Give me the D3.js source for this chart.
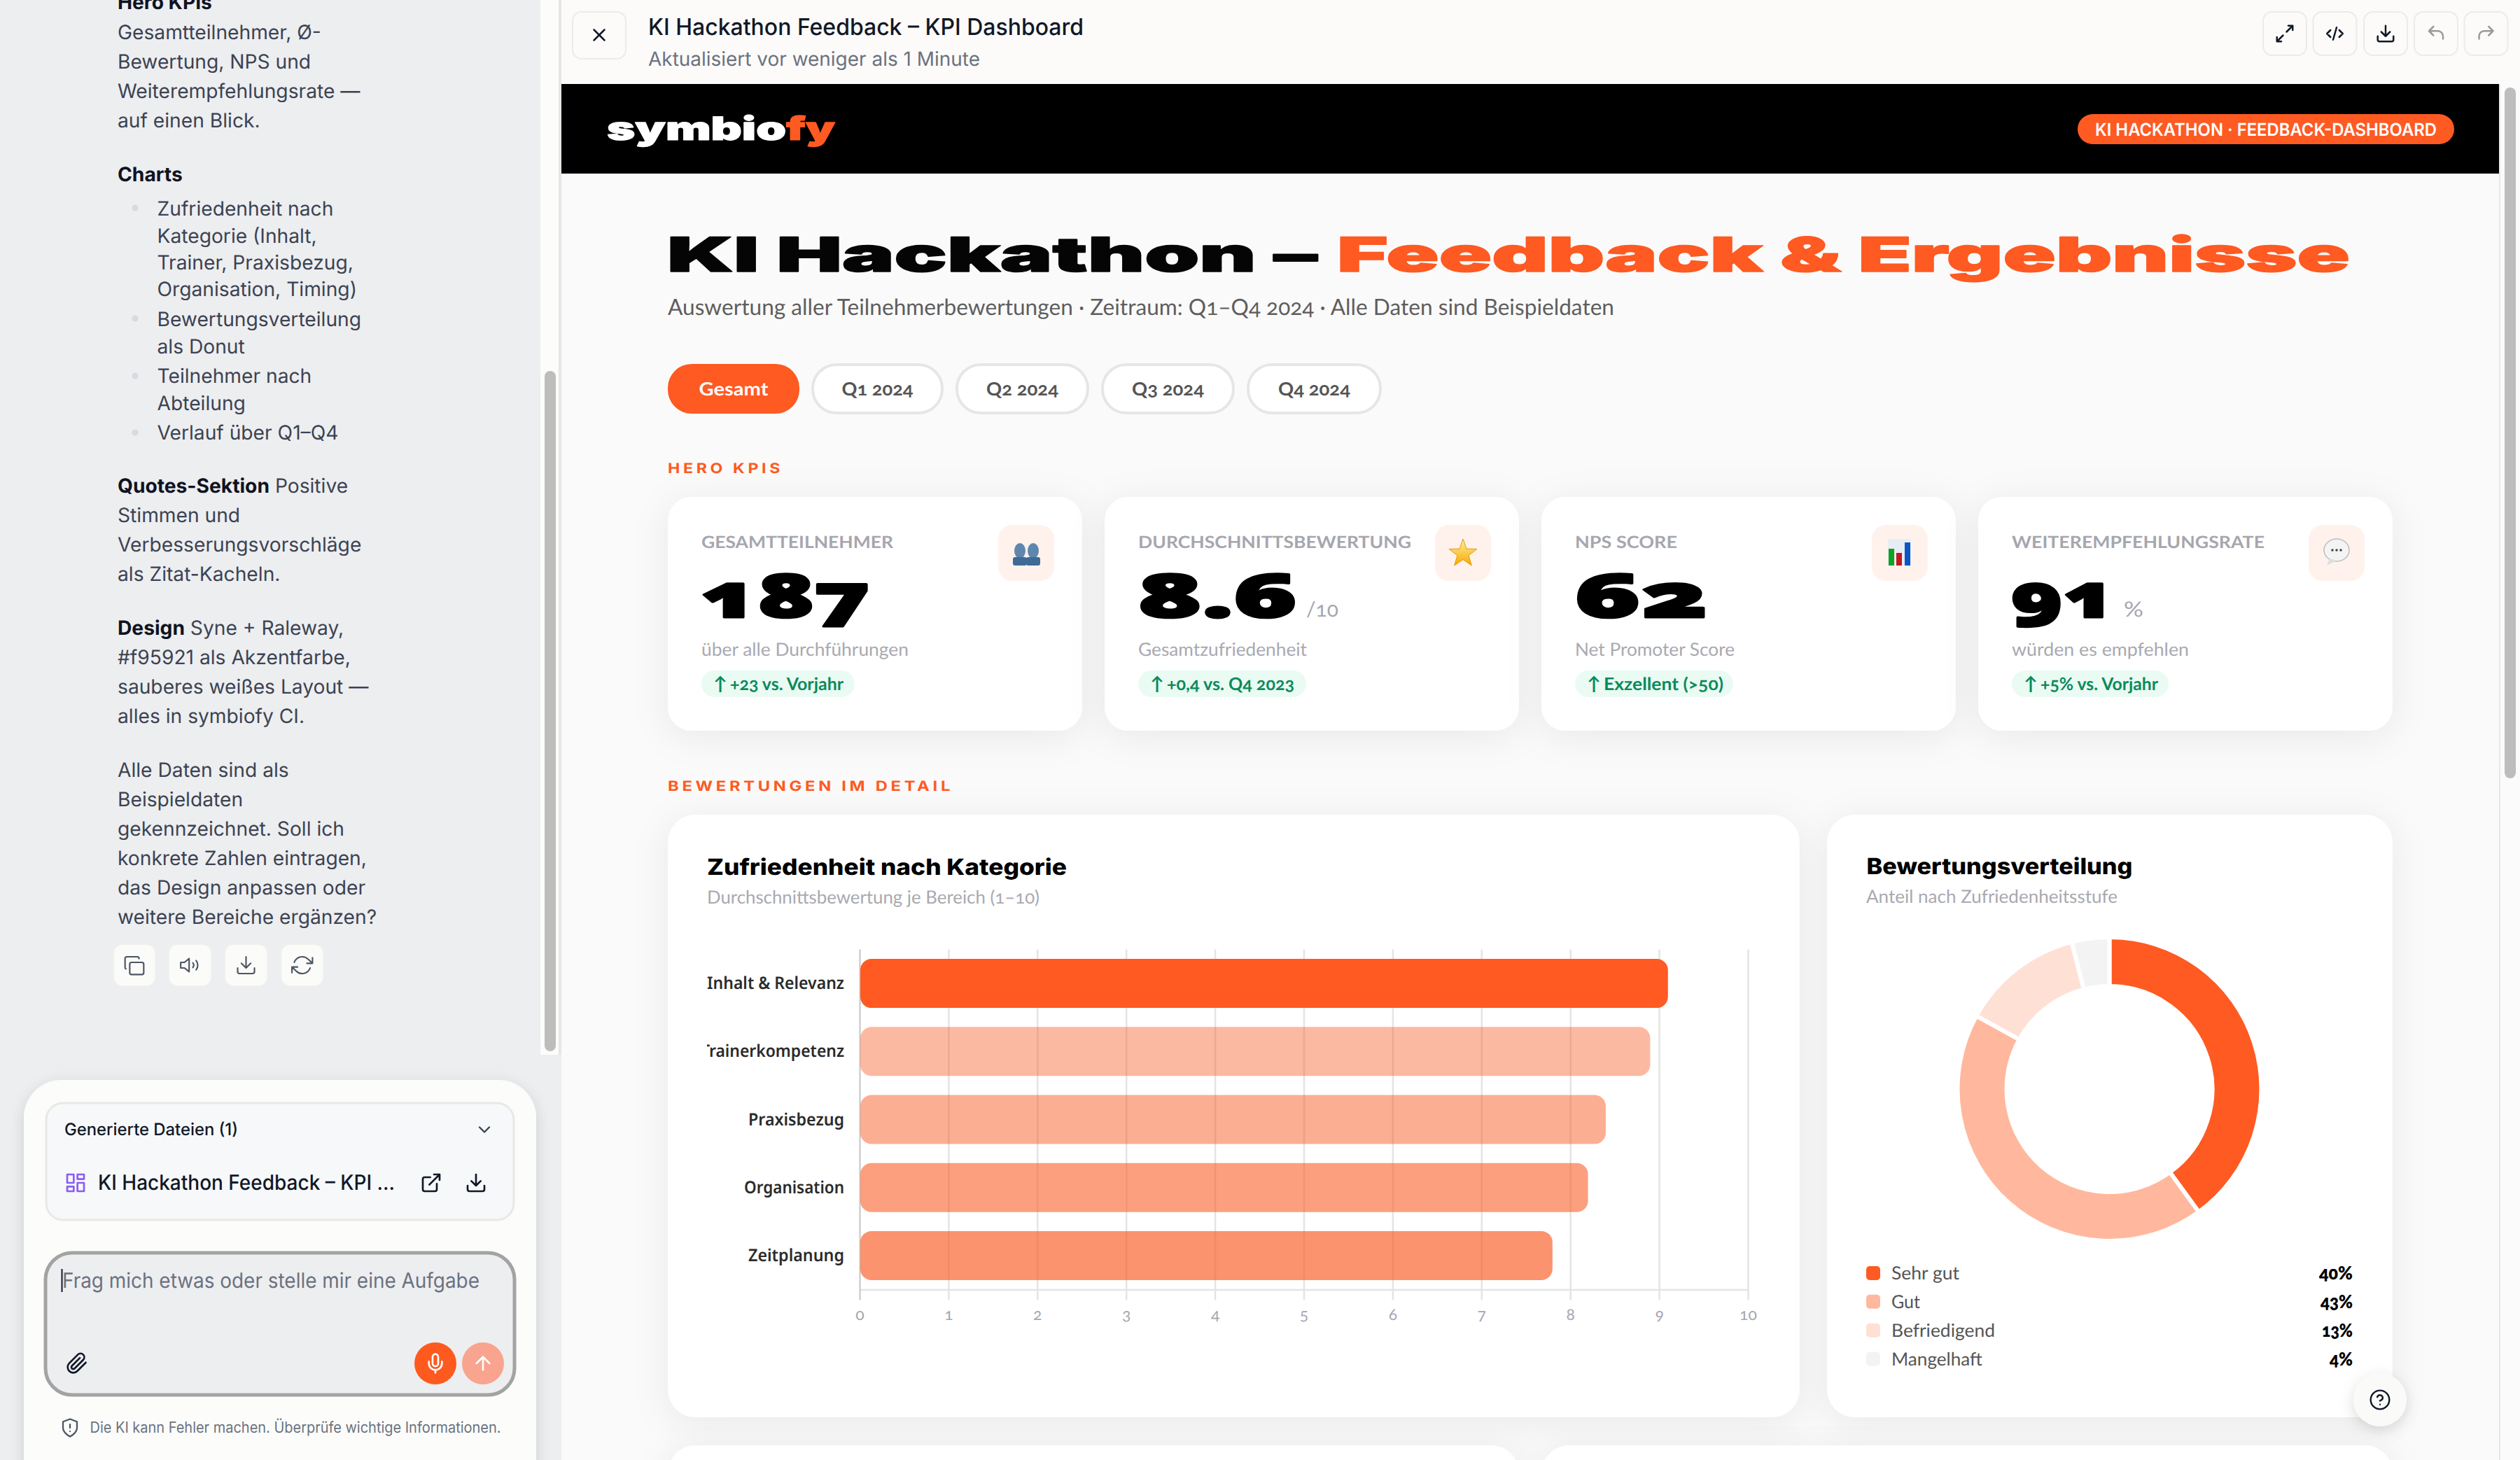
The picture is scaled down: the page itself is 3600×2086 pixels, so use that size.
<!DOCTYPE html>
<html lang="de">
<head>
<meta charset="UTF-8">
<title>KI Hackathon Feedback – KPI Dashboard</title>
<style>
    html, body { margin: 0; padding: 0; background: #fafafa; }
    svg { display: block; }
    .onum { font-feature-settings: "onum" 1; font-variant-numeric: oldstyle-nums; }
</style>
</head>
<body>
<div id="chart"></div>
<script src="https://d3js.org/d3.v7.min.js"></script>
<script>
// chart data
const categories = ["Inhalt & Relevanz", "Trainerkompetenz", "Praxisbezug", "Organisation", "Zeitplanung"];
const categoryScores = [9.1, 8.9, 8.4, 8.2, 7.8];
const ratingLabels = ["Sehr gut", "Gut", "Befriedigend", "Mangelhaft"];
const ratingShares = [40, 43, 13, 4];
const filterTabs = ["Gesamt", "Q1 2024", "Q2 2024", "Q3 2024", "Q4 2024"];
const kpiLabels = ["GESAMTTEILNEHMER", "DURCHSCHNITTSBEWERTUNG", "NPS SCORE", "WEITEREMPFEHLUNGSRATE"];
const kpiValues = ["187", "8.6", "62", "91"];
const kpiUnits = ["", "/10", "", "%"];
const kpiNotes = ["über alle Durchführungen", "Gesamtzufriedenheit", "Net Promoter Score", "würden es empfehlen"];
const kpiBadges = ["+23 vs. Vorjahr", "+0,4 vs. Q4 2023", "Exzellent (>50)", "+5% vs. Vorjahr"];

// sidebar copy: [bold part, regular part]
const sidebarCopy = [
    ["Hero KPIs", ""], ["", "Gesamtteilnehmer, Ø-"], ["", "Bewertung, NPS und"], ["", "Weiterempfehlungsrate —"], ["", "auf einen Blick."],
    ["Charts", ""],
    ["Quotes-Sektion", " Positive"], ["", "Stimmen und"], ["", "Verbesserungsvorschläge"], ["", "als Zitat-Kacheln."],
    ["Design", " Syne + Raleway,"], ["", "#f95921 als Akzentfarbe,"], ["", "sauberes weißes Layout —"], ["", "alles in symbiofy CI."],
    ["", "Alle Daten sind als"], ["", "Beispieldaten"], ["", "gekennzeichnet. Soll ich"], ["", "konkrete Zahlen eintragen,"], ["", "das Design anpassen oder"], ["", "weitere Bereiche ergänzen?"]
];
const sidebarBullets = [
    ["Zufriedenheit nach", "Kategorie (Inhalt,", "Trainer, Praxisbezug,", "Organisation, Timing)"],
    ["Bewertungsverteilung", "als Donut"],
    ["Teilnehmer nach", "Abteilung"],
    ["Verlauf über Q1–Q4"]
];

// layout
const ORANGE = "#fe5a22";
const INTER = "Inter, sans-serif";
const LATO = "Lato, sans-serif";
const NOTO = "'Noto Sans', sans-serif";
const sidebarY = [13, 56, 98, 140, 182, 259, 704, 746, 788, 830, 907, 949, 991, 1033, 1110, 1152, 1194, 1236, 1278, 1320];
const bulletY = [[308, 346.5, 385, 423], [466, 504.5], [546.5, 585.5], [628]];
const bulletDotY = [297, 455, 537, 618];
const kpiX = [954, 1578, 2202, 2826];
const kpiLabelW = [274, 390, 146, 361];
const kpiValueW = [244, 229, 191, 149];
const kpiUnitW = [0, 46, 0, 28];
const kpiNoteW = [296, 241, 228, 253];
const kpiBadgeW = [219, 240, 226, 224];
const kpiBadgeTextW = [162, 182, 171, 168];
const tabX = [[954, 1142], [1160, 1347], [1366, 1555], [1574, 1763], [1782, 1973]];
const tabW = [99, 102, 103, 103, 103];
const barAlpha = [1, 0.42, 0.49, 0.58, 0.65];
const ratingColors = [ORANGE, "#ffb89d", "#ffe0d5", "#f3f3f3"];
const ratingNameW = [97, 41, 148, 130];
const ratingShareW = [48, 46, 44, 33];
const categoryW = [196, 205, 137, 143, 137];

const svg = d3.select("#chart").append("svg")
    .attr("width", 3600).attr("height", 2086).attr("viewBox", "0 0 3600 2086")
    .attr("text-rendering", "geometricPrecision");

const defs = svg.append("defs");
const shadow = defs.append("filter").attr("id", "soft")
    .attr("x", "-20%").attr("y", "-20%").attr("width", "140%").attr("height", "140%");
shadow.append("feDropShadow").attr("dx", 0).attr("dy", 8).attr("stdDeviation", 26)
    .attr("flood-color", "#000").attr("flood-opacity", 0.07);
const small = defs.append("filter").attr("id", "lift")
    .attr("x", "-40%").attr("y", "-40%").attr("width", "180%").attr("height", "180%");
small.append("feDropShadow").attr("dx", 0).attr("dy", 6).attr("stdDeviation", 10)
    .attr("flood-color", "#000").attr("flood-opacity", 0.14);
defs.append("clipPath").attr("id", "catClip").append("rect")
    .attr("x", 1010).attr("y", 1340).attr("width", 210).attr("height", 510);
const gold = defs.append("linearGradient").attr("id", "gold").attr("x1", 0).attr("x2", 0).attr("y1", 0).attr("y2", 1);
gold.append("stop").attr("offset", "0%").attr("stop-color", "#fff0a0");
gold.append("stop").attr("offset", "100%").attr("stop-color", "#f7a800");

function put(parent, str, x, y, o = {}) {
    const t = parent.append("text").attr("x", x).attr("y", y).text(str)
        .attr("font-family", o.font || INTER)
        .attr("font-size", o.size || 26)
        .attr("font-weight", o.weight || 400)
        .attr("fill", o.fill || "#222")
        .attr("text-anchor", o.anchor || "start");
    if (o.ls) t.style("letter-spacing", o.ls + "px");
    if (o.w) t.attr("textLength", o.w).attr("lengthAdjust", "spacingAndGlyphs");
    if (o.onum) t.attr("class", "onum");
    if (o.fat) t.attr("stroke", o.fill).attr("stroke-width", o.fat).attr("stroke-linejoin", "round");
    return t;
}
function box(parent, x0, y0, x1, y1, r, fill, stroke, sw) {
    return parent.append("rect").attr("x", x0).attr("y", y0)
        .attr("width", x1 - x0).attr("height", y1 - y0).attr("rx", r)
        .attr("fill", fill).attr("stroke", stroke || "none").attr("stroke-width", sw || 0);
}
function icon(parent, d, cx, cy, size, color, sw) {
    const k = size / 24;
    return parent.append("path").attr("d", d)
        .attr("transform", `translate(${cx - size / 2},${cy - size / 2}) scale(${k})`)
        .attr("fill", "none").attr("stroke", color).attr("stroke-width", sw || 2)
        .attr("stroke-linecap", "round").attr("stroke-linejoin", "round");
}
const ICON = {
    copy: "M9 9h11a2 2 0 0 1 2 2v9a2 2 0 0 1-2 2H9a2 2 0 0 1-2-2v-9a2 2 0 0 1 2-2z M3 16a2 2 0 0 1-1-2V5a2 2 0 0 1 2-2h11a2 2 0 0 1 2 2",
    sound: "M11 5L6 9H2v6h4l5 4V5z M15 9.5a4 4 0 0 1 0 5 M18.5 7a8 8 0 0 1 0 10",
    down: "M21 15v4a2 2 0 0 1-2 2H5a2 2 0 0 1-2-2v-4 M7 10l5 5 5-5 M12 15V3",
    sync: "M23 4v6h-6 M1 20v-6h6 M3.51 9a9 9 0 0 1 14.85-3.36L23 10 M1 14l4.64 4.36A9 9 0 0 0 20.49 15",
    ext: "M18 13v6a2 2 0 0 1-2 2H5a2 2 0 0 1-2-2V8a2 2 0 0 1 2-2h6 M15 3h6v6 M10 14L21 3",
    expand: "M14 10l7-7 M16 3h5v5 M10 14l-7 7 M3 16v5h5",
    code: "M7 8l-4 4 4 4 M17 8l4 4-4 4 M14 5l-4 14",
    undo: "M9 14L4 9l5-5 M4 9h10a6 6 0 0 1 6 6v3",
    redo: "M15 14l5-5-5-5 M20 9H10a6 6 0 0 0-6 6v3",
    close: "M6 6l12 12 M18 6L6 18",
    chevron: "M6 9l6 6 6-6",
    mic: "M12 2a3 3 0 0 0-3 3v7a3 3 0 0 0 6 0V5a3 3 0 0 0-3-3z M19 10v2a7 7 0 0 1-14 0v-2 M12 19v3",
    up: "M12 19V5 M5 12l7-7 7 7",
    clip: "M21.44 11.05l-9.19 9.19a6 6 0 0 1-8.49-8.49l9.19-9.19a4 4 0 0 1 5.66 5.66l-9.2 9.19a2 2 0 0 1-2.83-2.83l8.49-8.48",
    shield: "M12 22s8-4 8-10V5l-8-3-8 3v7c0 6 8 10 8 10z M12 8v4 M12 16h.01",
    help: "M12 2a10 10 0 1 0 0 20 10 10 0 0 0 0-20z M9.09 9a3 3 0 0 1 5.83 1c0 2-3 3-3 3 M12 17h.01",
    grid: "M3 3h7v9H3z M14 3h7v5h-7z M14 12h7v9h-7z M3 16h7v5H3z"
};

// ---------- page backgrounds
box(svg, 0, 0, 3600, 2086, 0, "#fafafa");
box(svg, 0, 0, 772, 2086, 0, "#edeef0");
box(svg, 772, 0, 798, 1507, 0, "#fcfcfa");
box(svg, 772, 1507, 802, 2086, 0, "#edeef0");
box(svg, 798, 0, 802, 1507, 0, "#e6e6e2");
box(svg, 778, 530, 794, 1502, 8, "#bdbdbd");

// ---------- sidebar text
const side = svg.append("g");
sidebarCopy.forEach((line, i) => {
    const t = side.append("text").attr("x", 168).attr("y", sidebarY[i])
        .attr("font-family", INTER).attr("font-size", 28.2);
    if (line[0]) t.append("tspan").attr("font-weight", 700).attr("fill", "#0f1322").text(line[0]);
    if (line[1]) t.append("tspan").attr("fill", "#3c4352").attr("xml:space", "preserve").text(line[1]);
});
sidebarBullets.forEach((item, i) => {
    side.append("circle").attr("cx", 193).attr("cy", bulletDotY[i]).attr("r", 4.6).attr("fill", "#d8dae0");
    item.forEach((s, j) => put(side, s, 224.5, bulletY[i][j], { size: 28.2, fill: "#3c4352" }));
});
[[162, 222, "copy"], [241, 302, "sound"], [321, 382, "down"], [401.5, 462, "sync"]].forEach(b => {
    box(side, b[0], 1349, b[1], 1409, 13, "#fbfbf9", "#f0f0ee", 2);
    icon(side, ICON[b[2]], (b[0] + b[1]) / 2, 1379, 32, "#4b5563", 1.6);
});

// ---------- bottom composer
const comp = svg.append("g").attr("transform", "translate(0,2)");
box(comp, 34, 1541, 766, 2140, 54, "#fcfcfa").attr("filter", "url(#lift)");
box(comp, 66, 1574, 734, 1741, 24, "#f7f8f9", "#e8e8e5", 3);
put(comp, "Generierte Dateien (1)", 92, 1620, { size: 24, weight: 500, fill: "#111827", w: 248 });
icon(comp, ICON.chevron, 692, 1612, 28, "#374151", 2);
icon(comp, ICON.grid, 108, 1688, 32, "#8b5cf6", 2);
put(comp, "KI Hackathon Feedback – KPI ...", 140, 1698, { size: 30, weight: 500, fill: "#111827", w: 424 });
icon(comp, ICON.ext, 616, 1688, 32, "#111827", 2);
icon(comp, ICON.down, 680, 1688, 32, "#111827", 2);
box(comp, 65, 1788, 735, 1991, 38, "#edeef0", "#a3a3a3", 5);
put(comp, "Frag mich etwas oder stelle mir eine Aufgabe", 89, 1837.5, { size: 30, fill: "#6b7280", w: 596 });
comp.append("line").attr("x1", 88.5).attr("x2", 88.5).attr("y1", 1811).attr("y2", 1844).attr("stroke", "#111827").attr("stroke-width", 2);
icon(comp, ICON.clip, 110, 1946, 32, "#111827", 2);
comp.append("circle").attr("cx", 622).attr("cy", 1946).attr("r", 30).attr("fill", "#fe5a1f");
icon(comp, ICON.mic, 622, 1946, 32, "#fff", 2);
comp.append("circle").attr("cx", 690).attr("cy", 1946).attr("r", 30).attr("fill", "#f8a48e");
icon(comp, ICON.up, 690, 1946, 32, "#fff", 2);
icon(comp, ICON.shield, 100, 2038, 30, "#4b5563", 1.8);
put(comp, "Die KI kann Fehler machen. Überprüfe wichtige Informationen.", 128.5, 2045, { size: 22, fill: "#6b7280", w: 587 });

// ---------- top bar
const topbar = svg.append("g");
box(topbar, 802, 0, 3600, 120, 0, "#fcfbf9");
box(topbar, 818, 17, 894, 84, 13, "#fcfbf9", "#ecebe8", 2);
icon(topbar, ICON.close, 856, 50, 30, "#111827", 2);
put(topbar, "KI Hackathon Feedback – KPI Dashboard", 926, 50, { size: 33, weight: 500, fill: "#111827", w: 622 });
put(topbar, "Aktualisiert vor weniger als 1 Minute", 926, 94, { size: 28, fill: "#6b7280", w: 474 });
[[3233, "expand", "#111827"], [3304.5, "code", "#111827"], [3377, "down", "#111827"], [3449, "undo", "#9a9a9a"], [3520.5, "redo", "#9a9a9a"]].forEach(b => {
    box(topbar, b[0], 17, b[0] + 62, 79, 13, "#fcfbf9", "#ecebe8", 2);
    icon(topbar, ICON[b[1]], b[0] + 31, 48, 30, b[2], 2);
});

// ---------- right scrollbar
box(svg, 3570, 120, 3572, 2086, 0, "#e7e7e7");
box(svg, 3572, 120, 3600, 2086, 0, "#fbfbfb");
box(svg, 3578, 125, 3594, 1112, 8, "#bdbdbd");

// ---------- black header
const head = svg.append("g");
box(head, 802, 120, 3570, 248, 0, "#000");
put(head, "symbio", 867, 200, { size: 46, weight: 900, fill: "#fff", w: 256, fat: 1.2 });
put(head, "fy", 1123, 200, { size: 46, weight: 900, fill: ORANGE, w: 70, fat: 1.2 });
box(head, 2968, 163, 3506, 206, 21.5, ORANGE);
put(head, "KI HACKATHON · FEEDBACK-DASHBOARD", 2993, 194, { size: 25, weight: 600, fill: "#fff", w: 488 });

// ---------- hero title
const hero = svg.append("g");
put(hero, "KI Hackathon –", 953, 388, { size: 68, weight: 900, fill: "#050505", w: 929, fat: 1.5 });
put(hero, "Feedback & Ergebnisse", 1910, 388, { size: 68, weight: 900, fill: ORANGE, w: 1447, fat: 1.5 });
put(hero, "Auswertung aller Teilnehmerbewertungen · Zeitraum: Q1–Q4 2024 · Alle Daten sind Beispieldaten",
    954, 450, { font: LATO, size: 32, fill: "#5e5e5e", w: 1352, onum: true });

filterTabs.forEach((tab, i) => {
    const on = i === 0;
    box(hero, tabX[i][0] + (on ? 0 : 1), on ? 520 : 521, tabX[i][1] - (on ? 0 : 1), on ? 591 : 590, 34, on ? ORANGE : "#fff", on ? ORANGE : "#e6e6e6", on ? 0 : 4);
    put(hero, tab, (tabX[i][0] + tabX[i][1]) / 2, 565, {
        font: LATO, size: 26, weight: 700, fill: on ? "#fff" : "#555", anchor: "middle", w: tabW[i], onum: true
    });
});
put(hero, "HERO KPIS", 954, 676, { size: 20, weight: 700, fill: ORANGE, w: 165, ls: 4 });
put(hero, "BEWERTUNGEN IM DETAIL", 954, 1130, { size: 20, weight: 700, fill: ORANGE, w: 408, ls: 4 });

// ---------- KPI cards
const kpi = svg.append("g");
kpiLabels.forEach((label, i) => {
    const x = kpiX[i], tx = x + 48;
    box(kpi, x, 710, x + 592, 1044, 34, "#fff").attr("filter", "url(#soft)");
    put(kpi, label, tx, 783, { font: LATO, size: 24, weight: 700, fill: "#a6a6ae", w: kpiLabelW[i] });
    box(kpi, x + 472, 750, x + 552, 830, 20, "#fff2ed");
    put(kpi, kpiValues[i], tx - 1, 882, { font: NOTO, size: 86, weight: 900, fill: "#000", w: kpiValueW[i], onum: true, fat: 3 });
    if (kpiUnits[i]) {
        put(kpi, kpiUnits[i], tx + kpiValueW[i] + 11, 881, { font: LATO, size: 30, fill: "#a6a6ae", w: kpiUnitW[i], onum: true });
    }
    put(kpi, kpiNotes[i], tx, 937, { font: LATO, size: 26, fill: "#a9a9b1", w: kpiNoteW[i] });
    box(kpi, tx, 958, tx + kpiBadgeW[i], 996, 19, "#eafbf3");
    put(kpi, "↑", tx + 27, 986, { font: LATO, size: 26, weight: 700, fill: "#0a8a5c", anchor: "middle" });
    put(kpi, kpiBadges[i], tx + 41, 986, { font: LATO, size: 25, weight: 700, fill: "#0a8a5c", w: kpiBadgeTextW[i], onum: true });
});

// emoji stand-ins
const people = kpi.append("g").attr("fill", "#5f87ad");
[1457, 1476].forEach(cx => {
    people.append("ellipse").attr("cx", cx).attr("cy", 787).attr("rx", 8).attr("ry", 11);
    people.append("rect").attr("x", cx - 10).attr("y", 796).attr("width", 20).attr("height", 12).attr("rx", 3).attr("fill", "#3f6a96");
});
const starPoints = d3.range(10).map(k => {
    const r = k % 2 ? 8.5 : 21, a = k * Math.PI / 5;
    return [2090 + r * Math.sin(a), 791 - r * Math.cos(a)];
});
kpi.append("polygon").attr("points", starPoints.join(" "))
    .attr("fill", "url(#gold)").attr("stroke", "#e79a00").attr("stroke-width", 1).attr("stroke-linejoin", "round");
box(kpi, 2697, 770, 2730, 808, 0, "#e6edf5");
box(kpi, 2698, 784, 2706, 808, 0, "#11a31f");
box(kpi, 2709, 790, 2717, 808, 0, "#c5191c");
box(kpi, 2721, 775, 2729, 808, 0, "#0b57c4");
kpi.append("ellipse").attr("cx", 3338).attr("cy", 786).attr("rx", 18).attr("ry", 16).attr("fill", "#f4f4f4").attr("stroke", "#bbb").attr("stroke-width", 1.5);
kpi.append("path").attr("d", "M3328 798 L3324 808 L3338 801 Z").attr("fill", "#ddd");
[3332, 3338, 3344].forEach(cx => kpi.append("circle").attr("cx", cx).attr("cy", 786).attr("r", 1.8).attr("fill", "#444"));

// ---------- cards of the detail row
const cards = svg.append("g");
box(cards, 954, 1164, 2571, 2025, 40, "#fff").attr("filter", "url(#soft)");
box(cards, 2610, 1164, 3418, 2025, 40, "#fff").attr("filter", "url(#soft)");
box(cards, 954, 2065, 2170, 2200, 40, "#fff").attr("filter", "url(#soft)");
box(cards, 2202, 2065, 3418, 2200, 40, "#fff").attr("filter", "url(#soft)");

put(cards, "Zufriedenheit nach Kategorie", 1010, 1250, { size: 32, weight: 800, fill: "#000", w: 514 });
put(cards, "Durchschnittsbewertung je Bereich (1–10)", 1010, 1291, { font: LATO, size: 26, fill: "#a9a9b1", w: 475, onum: true });
put(cards, "Bewertungsverteilung", 2666.5, 1249, { size: 32, weight: 800, fill: "#000", w: 380 });
put(cards, "Anteil nach Zufriedenheitsstufe", 2666, 1290, { font: LATO, size: 26, fill: "#a9a9b1", w: 359 });

// ---------- bar chart
const x = d3.scaleLinear().domain([0, 10]).range([1228, 2497]);
const y = d3.scaleBand().domain(categories).range([1356.5, 1842.5]).paddingInner(0.28).paddingOuter(0.14);
const bars = svg.append("g");

const xAxis = bars.append("g").attr("transform", "translate(0,1842.5)")
    .call(d3.axisBottom(x).ticks(10).tickSizeInner(15).tickSizeOuter(0).tickPadding(12));
xAxis.select(".domain").attr("stroke", "#e4e4e4").attr("stroke-width", 2.5);
xAxis.selectAll(".tick line").attr("y1", -486).attr("stroke", d => d === 0 ? "#cfcfcf" : "#e4e4e4").attr("stroke-width", 2.5);
xAxis.selectAll(".tick text").attr("font-family", LATO).attr("font-size", 23)
    .attr("fill", "#a6a6ae").attr("class", "onum");

bars.selectAll(".bar").data(categoryScores).join("rect")
    .attr("class", "bar")
    .attr("x", x(0) + 1)
    .attr("y", (d, i) => y(categories[i]))
    .attr("width", d => x(d) - x(0) - 1)
    .attr("height", y.bandwidth())
    .attr("rx", 16)
    .attr("fill", "#f95921")
    .attr("fill-opacity", (d, i) => barAlpha[i]);
bars.select(".bar").attr("fill", ORANGE);

bars.append("g").attr("clip-path", "url(#catClip)")
    .selectAll("text").data(categories).join("text")
    .attr("x", 1206)
    .attr("y", d => y(d) + y.bandwidth() / 2 + 8)
    .attr("text-anchor", "end")
    .attr("font-family", NOTO).attr("font-size", 24.5).attr("font-weight", 600).attr("fill", "#2b2b2b")
    .attr("textLength", (d, i) => categoryW[i]).attr("lengthAdjust", "spacingAndGlyphs")
    .text(d => d);

// ---------- donut
const donut = svg.append("g").attr("transform", "translate(3013.5,1556)");
const arc = d3.arc().innerRadius(147).outerRadius(217);
donut.selectAll("path").data(d3.pie().sort(null)(ratingShares)).join("path")
    .attr("d", arc)
    .attr("fill", (d, i) => ratingColors[i])
    .attr("stroke", "#fff").attr("stroke-width", 6);

const legendY = d3.scalePoint().domain(ratingLabels).range([1819, 1941.5]);
const legend = svg.append("g");
ratingLabels.forEach((name, i) => {
    const cy = legendY(name);
    box(legend, 2666, cy - 10, 2686, cy + 10, 5, ratingColors[i]);
    put(legend, name, 2702, cy + 9, { font: LATO, size: 26, fill: "#555", w: ratingNameW[i] });
    put(legend, ratingShares[i] + "%", 3361, cy + 9, { font: LATO, size: 26, weight: 800, fill: "#000", anchor: "end", w: ratingShareW[i], onum: true });
});

// ---------- help button
const help = svg.append("g");
help.append("circle").attr("cx", 3400).attr("cy", 2000).attr("r", 38).attr("fill", "#fafaf8").attr("filter", "url(#lift)");
icon(help, ICON.help, 3400, 2000, 32, "#111827", 1.8);
</script>
</body>
</html>
